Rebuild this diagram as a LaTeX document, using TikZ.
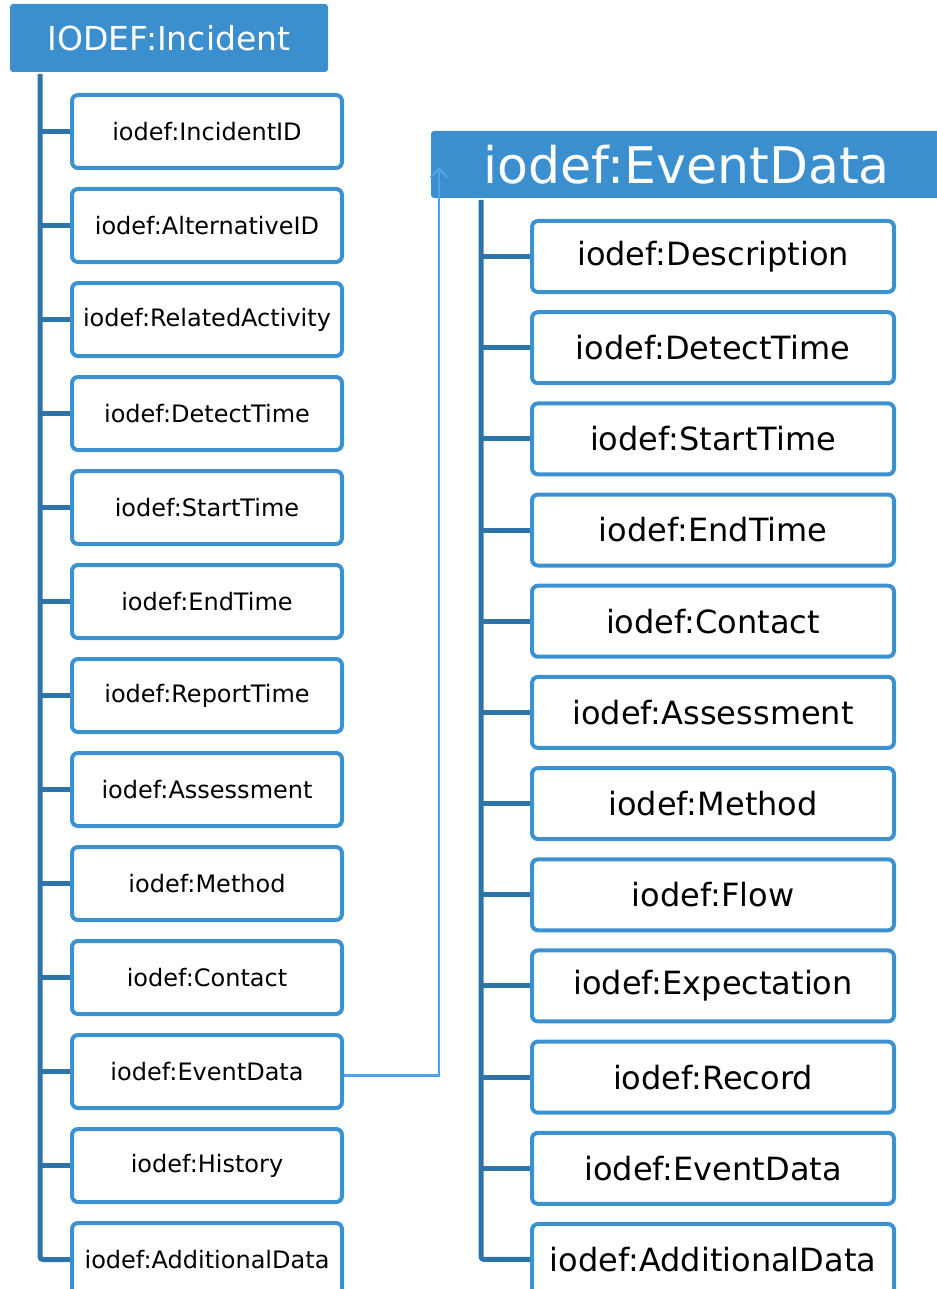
\documentclass[tikz,border=0pt]{standalone}
\usepackage{fontspec}
\setmainfont{DejaVu Sans}
\usetikzlibrary{arrows.meta}
\definecolor{hdr}{HTML}{3B8FCF}
\definecolor{trunk}{HTML}{2E74A9}
\definecolor{bx}{HTML}{3C92D1}
\definecolor{conn}{HTML}{4FA3E6}
\begin{document}
\begin{tikzpicture}[x=1pt,y=-1pt,
  leftbox/.style={draw=bx, line width=4pt, rounded corners=6pt, fill=white,
    minimum width=270pt, minimum height=73pt, inner sep=0pt,
    font=\fontsize{24}{24}\selectfont},
  rightbox/.style={draw=bx, line width=4pt, rounded corners=6pt, fill=white,
    minimum width=362pt, minimum height=71pt, inner sep=0pt,
    font=\fontsize{32}{32}\selectfont},
  header/.style={fill=hdr, text=white, rounded corners=3pt, inner sep=0pt},
  trunkline/.style={draw=trunk, line width=5pt, rounded corners=3pt},
  connline/.style={draw=conn, line width=2.2pt},
]
\useasboundingbox (0,0) rectangle (936,1289);

% headers
\node[header, minimum width=318pt, minimum height=68pt,
  font=\fontsize{33}{33}\selectfont] (inc) at (169,38) {IODEF:Incident};
\node[header, minimum width=520pt, minimum height=67pt,
  font=\fontsize{50.5}{50}\selectfont, text width=505pt, align=left] (ed) at (691,164.5)
  {\hspace*{45pt}iodef:EventData};

% left boxes
\foreach \i/\t in {1/IncidentID,2/AlternativeID,3/RelatedActivity,4/DetectTime,
  5/StartTime,6/EndTime,7/ReportTime,8/Assessment,9/Method,10/Contact,
  11/EventData,12/History,13/AdditionalData}{
  \node[leftbox] (l\i) at (207,{131.5+94*(\i-1)}) {iodef:\t};
}
% right boxes
\foreach \i/\t in {1/Description,2/DetectTime,3/StartTime,4/EndTime,5/Contact,
  6/Assessment,7/Method,8/Flow,9/Expectation,10/Record,11/EventData,12/AdditionalData}{
  \node[rightbox] (r\i) at (713,{256.5+91.18*(\i-1)}) {iodef:\t};
}

% trunks
\coordinate (lt) at (40,74);
\coordinate (rt) at (481,200);
\draw[trunkline] (lt) |- (l13.west);
\foreach \i in {1,...,12}{ \draw[trunk, line width=5pt] (lt |- l\i.west) -- (l\i.west); }
\draw[trunkline] (rt) |- (r12.west);
\foreach \i in {1,...,11}{ \draw[trunk, line width=5pt] (rt |- r\i.west) -- (r\i.west); }

% connector
\coordinate (tip) at (439,167);
\draw[connline, -{Straight Barb[length=9pt,width=17pt,line width=2.2pt]}]
  ([yshift=-4pt]l11.east) -| (tip);
\end{tikzpicture}
\end{document}
